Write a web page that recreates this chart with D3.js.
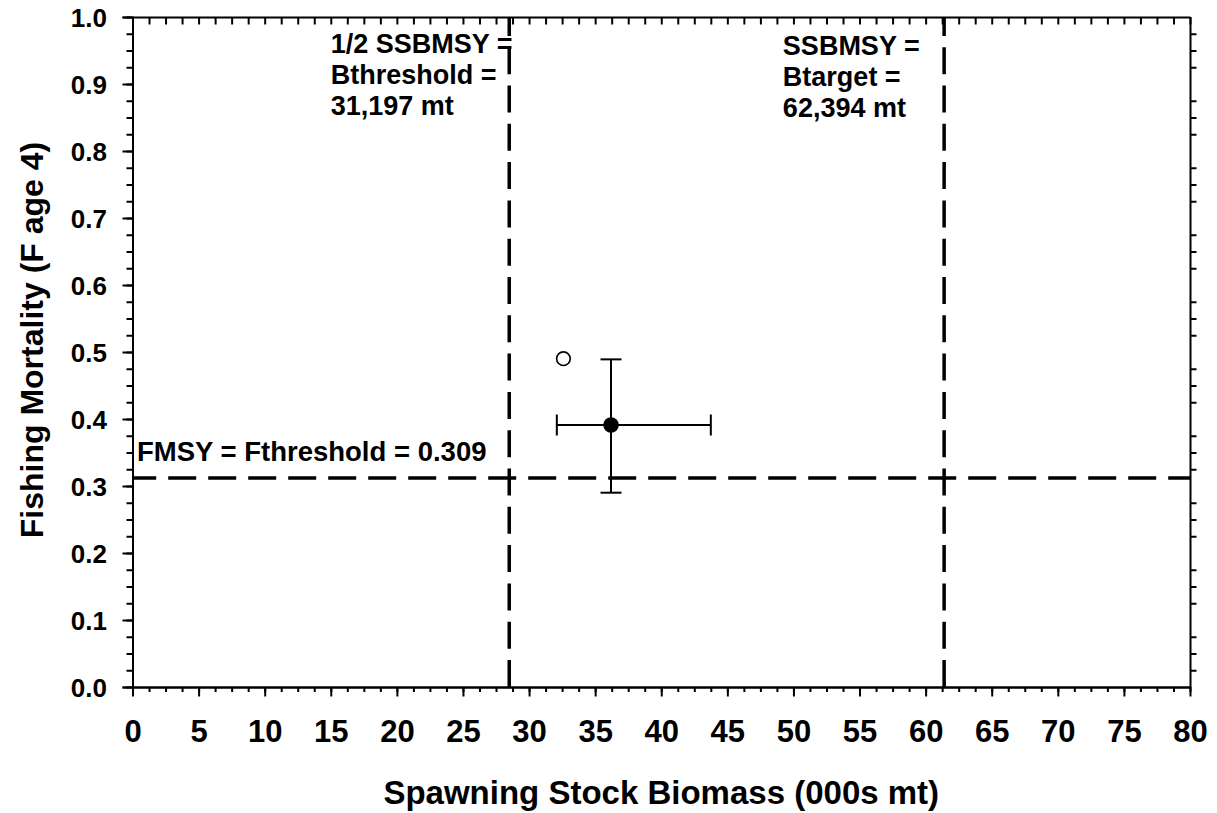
<!DOCTYPE html>
<html>
<head>
<meta charset="utf-8">
<script src="https://cdn.jsdelivr.net/npm/d3@7"></script>
<style>
  body { margin: 0; background: #fff; }
  svg { display: block; font-family: "Liberation Sans", Arial, sans-serif; font-weight: bold; }
</style>
</head>
<body>
<script>
// tick labels
const xTicks = [0, 5, 10, 15, 20, 25, 30, 35, 40, 45, 50, 55, 60, 65, 70, 75, 80]
const yTicks = [0, 0.1, 0.2, 0.3, 0.4, 0.5, 0.6, 0.7, 0.8, 0.9, 1.0]

// reference points (as drawn)
const bThreshold = 28.5
const bTarget = 61.4
const fThreshold = 0.312

// current estimate with 80% CI
const ssb = [36.2]
const fish = [0.391]
const ssbLow = [32.1]
const ssbHigh = [43.75]
const fLow = [0.29]
const fHigh = [0.489]

// previous assessment point
const prevSsb = [32.6]
const prevF = [0.49]

// labels
const threshLines = ["1/2 SSBMSY =", "Bthreshold =", "31,197 mt"]
const targetLines = ["SSBMSY =", "Btarget =", "62,394 mt"]
const fLabel = "FMSY = Fthreshold = 0.309"

let W = 1217, H = 813
let m = {left: 132.5, top: 17, right: 27, bottom: 126}
let w = W - m.left - m.right
let h = H - m.top - m.bottom

let svg = d3.select("body").append("svg")
    .attr("width", W)
    .attr("height", H)

let g = svg.append("g").attr("transform", `translate(${m.left},${m.top})`)

let x = d3.scaleLinear().domain([0, 80]).range([0, w])
let y = d3.scaleLinear().domain([0, 1]).range([h, 0])

let minorX = d3.range(0, 80.001, 1.25)
let minorY = d3.range(0, 1.0001, 0.025)
let minorYOnly = minorY.filter(d => Math.abs(d * 10 - Math.round(d * 10)) > 0.01)

// minor ticks
g.append("g").attr("class", "ax").attr("transform", `translate(0,${h})`)
    .call(d3.axisBottom(x).tickValues(minorX).tickSize(5).tickSizeOuter(0).tickFormat(""))
g.append("g").attr("class", "ax")
    .call(d3.axisLeft(y).tickValues(minorY).tickSize(6).tickSizeOuter(0).tickFormat(""))
g.append("g").attr("class", "ax")
    .call(d3.axisTop(x).tickValues(minorX).tickSize(-7.5).tickSizeOuter(0).tickFormat(""))
g.append("g").attr("class", "ax").attr("transform", `translate(${w},0)`)
    .call(d3.axisRight(y).tickValues(minorYOnly).tickSize(6.5).tickSizeOuter(0).tickFormat(""))

// major ticks + labels
let xAxis = g.append("g").attr("class", "ax").attr("transform", `translate(0,${h})`)
    .call(d3.axisBottom(x).tickValues(xTicks).tickSize(9.5).tickSizeOuter(0).tickFormat(d3.format("d")))
xAxis.selectAll("text")
    .attr("y", 55).attr("dy", 0)
    .style("font-size", "31px")

let yAxis = g.append("g").attr("class", "ax")
    .call(d3.axisLeft(y).tickValues(yTicks).tickSize(10).tickPadding(15.5).tickFormat(d3.format(".1f")))
yAxis.selectAll("text")
    .attr("dy", "0.36em")
    .style("font-size", "26px")

g.selectAll(".ax path, .ax line").attr("stroke", "#000").attr("stroke-width", 2)
g.selectAll(".ax text").attr("fill", "#000").style("font-family", "'Liberation Sans', Arial, sans-serif").style("font-weight", "bold")

// reference lines
g.selectAll(".vref")
    .data([bThreshold, bTarget])
    .enter()
    .append("line")
    .attr("x1", d => x(d)).attr("x2", d => x(d))
    .attr("y1", y(0)).attr("y2", y(1))
    .attr("stroke", "#000")
    .attr("stroke-width", 3.5)
    .attr("stroke-dasharray", "27,11.3")

g.append("line")
    .attr("x1", x(0)).attr("x2", x(80))
    .attr("y1", y(fThreshold)).attr("y2", y(fThreshold))
    .attr("stroke", "#000")
    .attr("stroke-width", 3.5)
    .attr("stroke-dasharray", "28,12")
    .attr("stroke-dashoffset", 4.3)

// annotations
let annot = (lines, x0, y0) => {
    g.append("text")
        .attr("x", x0)
        .attr("y", y0)
        .style("font-size", "27px")
        .selectAll("tspan")
        .data(lines)
        .enter()
        .append("tspan")
        .attr("x", x0)
        .attr("dy", (d, i) => i ? 30.8 : 0)
        .text(d => d)
}
annot(threshLines, x(15), y(0.946))
annot(targetLines, x(49.2), y(0.943))

g.append("text")
    .attr("x", x(0) + 4.5)
    .attr("y", y(0.337))
    .style("font-size", "27.5px")
    .text(fLabel)

// error bars
let eb = g.append("g").attr("stroke", "#000").attr("stroke-width", 2)
ssb.forEach((d, i) => {
    eb.append("line").attr("x1", x(ssbLow[i])).attr("x2", x(ssbHigh[i])).attr("y1", y(fish[i])).attr("y2", y(fish[i]))
    eb.append("line").attr("x1", x(d)).attr("x2", x(d)).attr("y1", y(fLow[i])).attr("y2", y(fHigh[i]))
    ;[ssbLow[i], ssbHigh[i]].forEach(v => {
        eb.append("line").attr("x1", x(v)).attr("x2", x(v)).attr("y1", y(fish[i]) - 10.5).attr("y2", y(fish[i]) + 10.5)
    })
    ;[fLow[i], fHigh[i]].forEach(v => {
        eb.append("line").attr("x1", x(d) - 10.5).attr("x2", x(d) + 10.5).attr("y1", y(v)).attr("y2", y(v))
    })
})

// points
g.selectAll(".pt")
    .data(ssb)
    .enter()
    .append("circle")
    .attr("cx", d => x(d))
    .attr("cy", (d, i) => y(fish[i]))
    .attr("r", 7.8)
    .attr("fill", "#000")

g.selectAll(".prev")
    .data(prevSsb)
    .enter()
    .append("circle")
    .attr("cx", d => x(d))
    .attr("cy", (d, i) => y(prevF[i]))
    .attr("r", 6.8)
    .attr("fill", "#fff")
    .attr("stroke", "#000")
    .attr("stroke-width", 1.6)

// axis titles
svg.append("text")
    .attr("x", m.left + w / 2)
    .attr("y", 804)
    .attr("text-anchor", "middle")
    .style("font-size", "33px")
    .text("Spawning Stock Biomass (000s mt)")

svg.append("text")
    .attr("transform", `translate(43,${m.top + h / 2 - 12}) rotate(-90)`)
    .attr("text-anchor", "middle")
    .style("font-size", "32px")
    .text("Fishing Mortality (F age 4)")
</script>
</body>
</html>
